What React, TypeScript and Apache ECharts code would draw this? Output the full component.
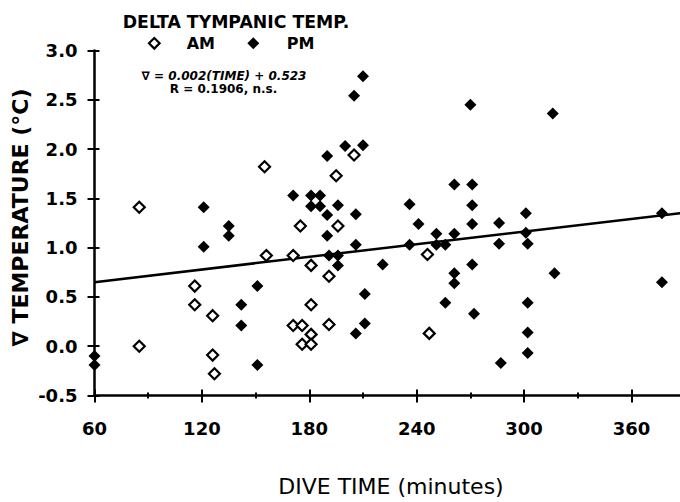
import React, { useEffect, useRef } from "react";
import * as echarts from "echarts";

// AM (open diamonds)
const amTime = [85, 85, 116, 116, 126, 126, 127, 155, 156, 171, 171, 175, 176, 176, 181, 181, 181, 181, 191, 191, 195, 196, 205, 246, 247];
const amDelta = [1.41, 0.0, 0.61, 0.42, 0.31, -0.09, -0.28, 1.82, 0.92, 0.92, 0.21, 1.22, 0.21, 0.02, 0.82, 0.42, 0.12, 0.02, 0.71, 0.22, 1.73, 1.22, 1.94, 0.93, 0.13];

// PM (filled diamonds)
const pmTime = [60, 60, 121, 121, 135, 135, 142, 142, 151, 151, 171, 181, 186, 181, 186, 190, 190, 190, 191, 196, 196, 196, 200, 205, 206, 206, 206, 210, 210, 211, 211, 221, 236, 236, 241, 251, 251, 256, 256, 261, 261, 261, 261, 270, 271, 271, 271, 271, 272, 286, 286, 287, 301, 301, 302, 302, 302, 302, 316, 317, 377, 377];
const pmDelta = [-0.1, -0.19, 1.41, 1.01, 1.22, 1.12, 0.42, 0.21, 0.61, -0.19, 1.53, 1.53, 1.53, 1.42, 1.42, 1.93, 1.33, 1.12, 0.92, 1.43, 0.92, 0.82, 2.03, 2.54, 1.34, 1.03, 0.13, 2.74, 2.04, 0.53, 0.23, 0.83, 1.44, 1.03, 1.24, 1.14, 1.03, 1.03, 0.44, 1.64, 1.14, 0.74, 0.64, 2.45, 1.64, 1.43, 1.24, 0.83, 0.33, 1.25, 1.04, -0.17, 1.35, 1.15, 1.04, 0.44, 0.14, -0.07, 2.36, 0.74, 1.35, 0.65];

// Regression line end points (as drawn)
const fitTime = [60, 392];
const fitDelta = [0.65, 1.36];

// Axis settings
const xMin = 60;
const xMax = 420;
const xStep = 60;
const yMin = -0.5;
const yMax = 3.0;
const yStep = 0.5;

const titleText = "DELTA TYMPANIC TEMP.";
const legendNames = ["AM", "PM"];
const eqLine1 = "\u2207 = 0.002(TIME) + 0.523";
const eqLine2 = "R = 0.1906, n.s.";
const xTitle = "DIVE TIME (minutes)";
const yTitle = "\u2207 TEMPERATURE (\u00B0C)";

const zip = (a: number[], b: number[]) => a.map((v, i) => [v, b[i]]);

const VIEW_W = 680;
const VIEW_H = 502;
const PX_PER_MIN = 1.79;
const LEFT = 94.5;
const CHART_W = Math.ceil(LEFT + (xMax - xMin) * PX_PER_MIN);

export default function App() {
  const ref = useRef<HTMLDivElement>(null);

  useEffect(() => {
    if (!ref.current) return;
    const chart = echarts.init(ref.current, null, { renderer: "svg" });
    const plotW = (xMax - xMin) * PX_PER_MIN;
    const right = CHART_W - LEFT - plotW;
    const tickFont = { fontFamily: "DejaVu Sans", fontWeight: "bold" as const, fontSize: 18, color: "#000" };
    const lineStyle = { color: "#000", width: 2.5 };

    const baseX = {
      type: "value" as const,
      min: xMin,
      max: xMax,
      interval: xStep,
      position: "bottom" as const,
      splitLine: { show: false },
    };
    const baseY = {
      type: "value" as const,
      min: yMin,
      max: yMax,
      interval: yStep,
      position: "left" as const,
      splitLine: { show: false },
    };

    chart.setOption({
      animation: false,
      backgroundColor: "#fff",
      grid: { left: LEFT, right, top: 50.5, bottom: 106.5, containLabel: false },
      xAxis: [
        {
          ...baseX,
          axisLine: { show: true, onZero: false, lineStyle },
          axisTick: { show: true, inside: false, length: 7, lineStyle: { color: "#000", width: 2 } },
          minorTick: { show: true, splitNumber: 2, length: 3, lineStyle: { color: "#000", width: 2 } },
          axisLabel: { ...tickFont, margin: 24, showMaxLabel: false },
        },
        {
          ...baseX,
          axisLine: { show: false, onZero: false },
          axisTick: { show: true, inside: true, length: 6, lineStyle: { color: "#000", width: 2 } },
          minorTick: { show: true, splitNumber: 2, length: 3, lineStyle: { color: "#000", width: 2 } },
          axisLabel: { show: false },
        },
      ],
      yAxis: [
        {
          ...baseY,
          axisLine: { show: true, onZero: false, lineStyle },
          axisTick: { show: true, inside: false, length: 7, lineStyle: { color: "#000", width: 2 } },
          axisLabel: { ...tickFont, margin: 17, formatter: (v: number) => v.toFixed(1) },
        },
        {
          ...baseY,
          axisLine: { show: false, onZero: false },
          axisTick: { show: true, inside: true, length: 5, lineStyle: { color: "#000", width: 2 } },
          axisLabel: { show: false },
        },
      ],
      series: [
        {
          type: "line",
          name: "fit",
          data: zip(fitTime, fitDelta),
          showSymbol: false,
          symbol: "none",
          lineStyle: { color: "#000", width: 2.5 },
          z: 2,
        },
        {
          type: "scatter",
          name: "PM",
          data: zip(pmTime, pmDelta),
          symbol: "diamond",
          symbolSize: 12,
          itemStyle: { color: "#000", opacity: 1 },
          z: 3,
        },
        {
          type: "scatter",
          name: "AM",
          data: zip(amTime, amDelta),
          symbol: "diamond",
          symbolSize: 11,
          itemStyle: { color: "#fff", borderColor: "#000", borderWidth: 2.2, opacity: 1 },
          z: 4,
        },
      ],
      graphic: [
        {
          type: "text",
          x: 236,
          y: 21.7,
          style: { text: titleText, font: "bold 17.3px 'DejaVu Sans'", fill: "#000", textAlign: "center", textVerticalAlign: "middle" },
        },
        {
          type: "polygon",
          shape: { points: [[154.3, 38], [159.6, 43.3], [154.3, 48.6], [149, 43.3]] },
          style: { fill: "#fff", stroke: "#000", lineWidth: 2.2 },
        },
        {
          type: "text",
          x: 186.7,
          y: 43.3,
          style: { text: legendNames[0], font: "bold 16px 'DejaVu Sans'", fill: "#000", textAlign: "left", textVerticalAlign: "middle" },
        },
        {
          type: "polygon",
          shape: { points: [[253.3, 37.3], [259.3, 43.3], [253.3, 49.3], [247.3, 43.3]] },
          style: { fill: "#000" },
        },
        {
          type: "text",
          x: 286.7,
          y: 43.3,
          style: { text: legendNames[1], font: "bold 16px 'DejaVu Sans'", fill: "#000", textAlign: "left", textVerticalAlign: "middle" },
        },
        {
          type: "text",
          x: 224,
          y: 76,
          style: { text: eqLine1, font: "italic bold 12px 'DejaVu Sans'", fill: "#000", textAlign: "center", textVerticalAlign: "middle" },
        },
        {
          type: "text",
          x: 223.5,
          y: 89.3,
          style: { text: eqLine2, font: "bold 12px 'DejaVu Sans'", fill: "#000", textAlign: "center", textVerticalAlign: "middle" },
        },
        {
          type: "text",
          x: 391,
          y: 486,
          style: { text: xTitle, font: "22px 'DejaVu Sans'", fill: "#000", textAlign: "center", textVerticalAlign: "middle" },
        },
        {
          type: "text",
          x: 20,
          y: 217.5,
          rotation: Math.PI / 2,
          style: { text: yTitle, font: "bold 22px 'DejaVu Sans'", fill: "#000", textAlign: "center", textVerticalAlign: "middle" },
        },
      ],
    });
    return () => chart.dispose();
  }, []);

  return (
    <div style={{ position: "fixed", left: 0, top: 0, width: VIEW_W, height: VIEW_H, overflow: "hidden", background: "#fff" }}>
      <div ref={ref} style={{ width: CHART_W, height: VIEW_H }} />
    </div>
  );
}
